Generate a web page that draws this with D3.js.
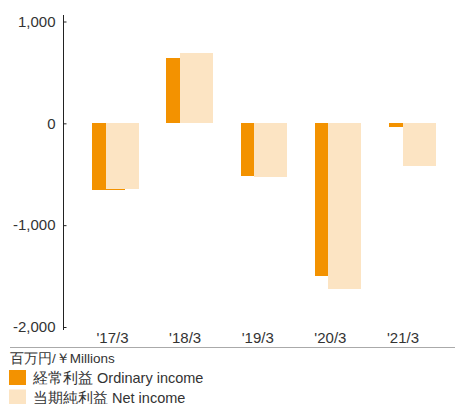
<!DOCTYPE html>
<html>
<head>
<meta charset="utf-8">
<script src="https://cdn.jsdelivr.net/npm/d3@7"></script>
<style>
  body { margin: 0; background: #fff; }
  svg { display: block; font-family: "Liberation Sans", Arial, sans-serif; }
  text { fill: #333; }
</style>
</head>
<body>
<svg width="455" height="404"></svg>
<script>
const years = ["'17/3", "'18/3", "'19/3", "'20/3", "'21/3"]
const ordinary = [-657, 637, -520, -1500, -38]
const net = [-647, 686, -529, -1627, -423]
const yTicks = [1000, 0, -1000, -2000]
const legendItems = ['経常利益 Ordinary income', '当期純利益 Net income']
const colors = ['#f39200', '#fce4c3']

const svg = d3.select('svg')
const barw = 33
const shift = 13.5

const x = d3.scaleBand().domain(years).range([92, 463.25])
const xl = d3.scalePoint().domain(years).range([112.5, 403])
const y = d3.scaleLinear().domain([-2000, 1000]).range([327, 21.5])

const fmt = d3.formatLocale({decimal: '.', thousands: ',', grouping: [3], currency: ['', ''], minus: '-'}).format(',')

/* y axis */
svg.append('line')
  .attr('x1', 63.5).attr('x2', 63.5)
  .attr('y1', 15).attr('y2', 330)
  .attr('stroke', '#222')
const yAxis = svg.append('g')
  .attr('transform', 'translate(63.5,0)')
  .call(d3.axisLeft(y).tickValues(yTicks).tickFormat(fmt).tickSizeInner(-3).tickSizeOuter(0).tickPadding(8))
yAxis.select('.domain').remove()
yAxis.selectAll('line').attr('stroke', '#222')
yAxis.selectAll('text')
  .attr('font-size', 15)
  .attr('font-family', '"Liberation Sans", Arial, sans-serif')
  .attr('fill', '#333')

/* bars */
const y0 = Math.round(y(0))
const series = [ordinary, net]
series.forEach((vals, s) => {
  svg.append('g').selectAll('rect').data(vals)
    .enter().append('rect')
    .attr('x', (d, i) => Math.round(x(years[i]) + s * shift))
    .attr('width', barw)
    .attr('y', d => Math.min(y0, Math.round(y(d))))
    .attr('height', d => Math.abs(Math.round(y(d)) - y0))
    .attr('fill', colors[s])
})

/* x labels */
svg.append('g').selectAll('text').data(years)
  .enter().append('text')
  .attr('x', d => xl(d))
  .attr('y', 343)
  .attr('text-anchor', 'middle')
  .attr('font-size', 15)
  .text(d => d)

svg.append('line')
  .attr('x1', 10).attr('x2', 455)
  .attr('y1', 347.5).attr('y2', 347.5)
  .attr('stroke', '#aaa')

/* unit + legend */
svg.append('text')
  .attr('x', 10).attr('y', 363)
  .attr('font-size', 13.5)
  .text('百万円/￥Millions')

const lg = svg.append('g').selectAll('g').data(legendItems)
  .enter().append('g')
  .attr('transform', (d, i) => `translate(9,${370 + i * 19.5})`)
lg.append('rect')
  .attr('width', 17).attr('height', 15)
  .attr('fill', (d, i) => colors[i])
lg.append('text')
  .attr('x', 24).attr('y', 13)
  .attr('font-size', 14.5)
  .text(d => d)
</script>
</body>
</html>
